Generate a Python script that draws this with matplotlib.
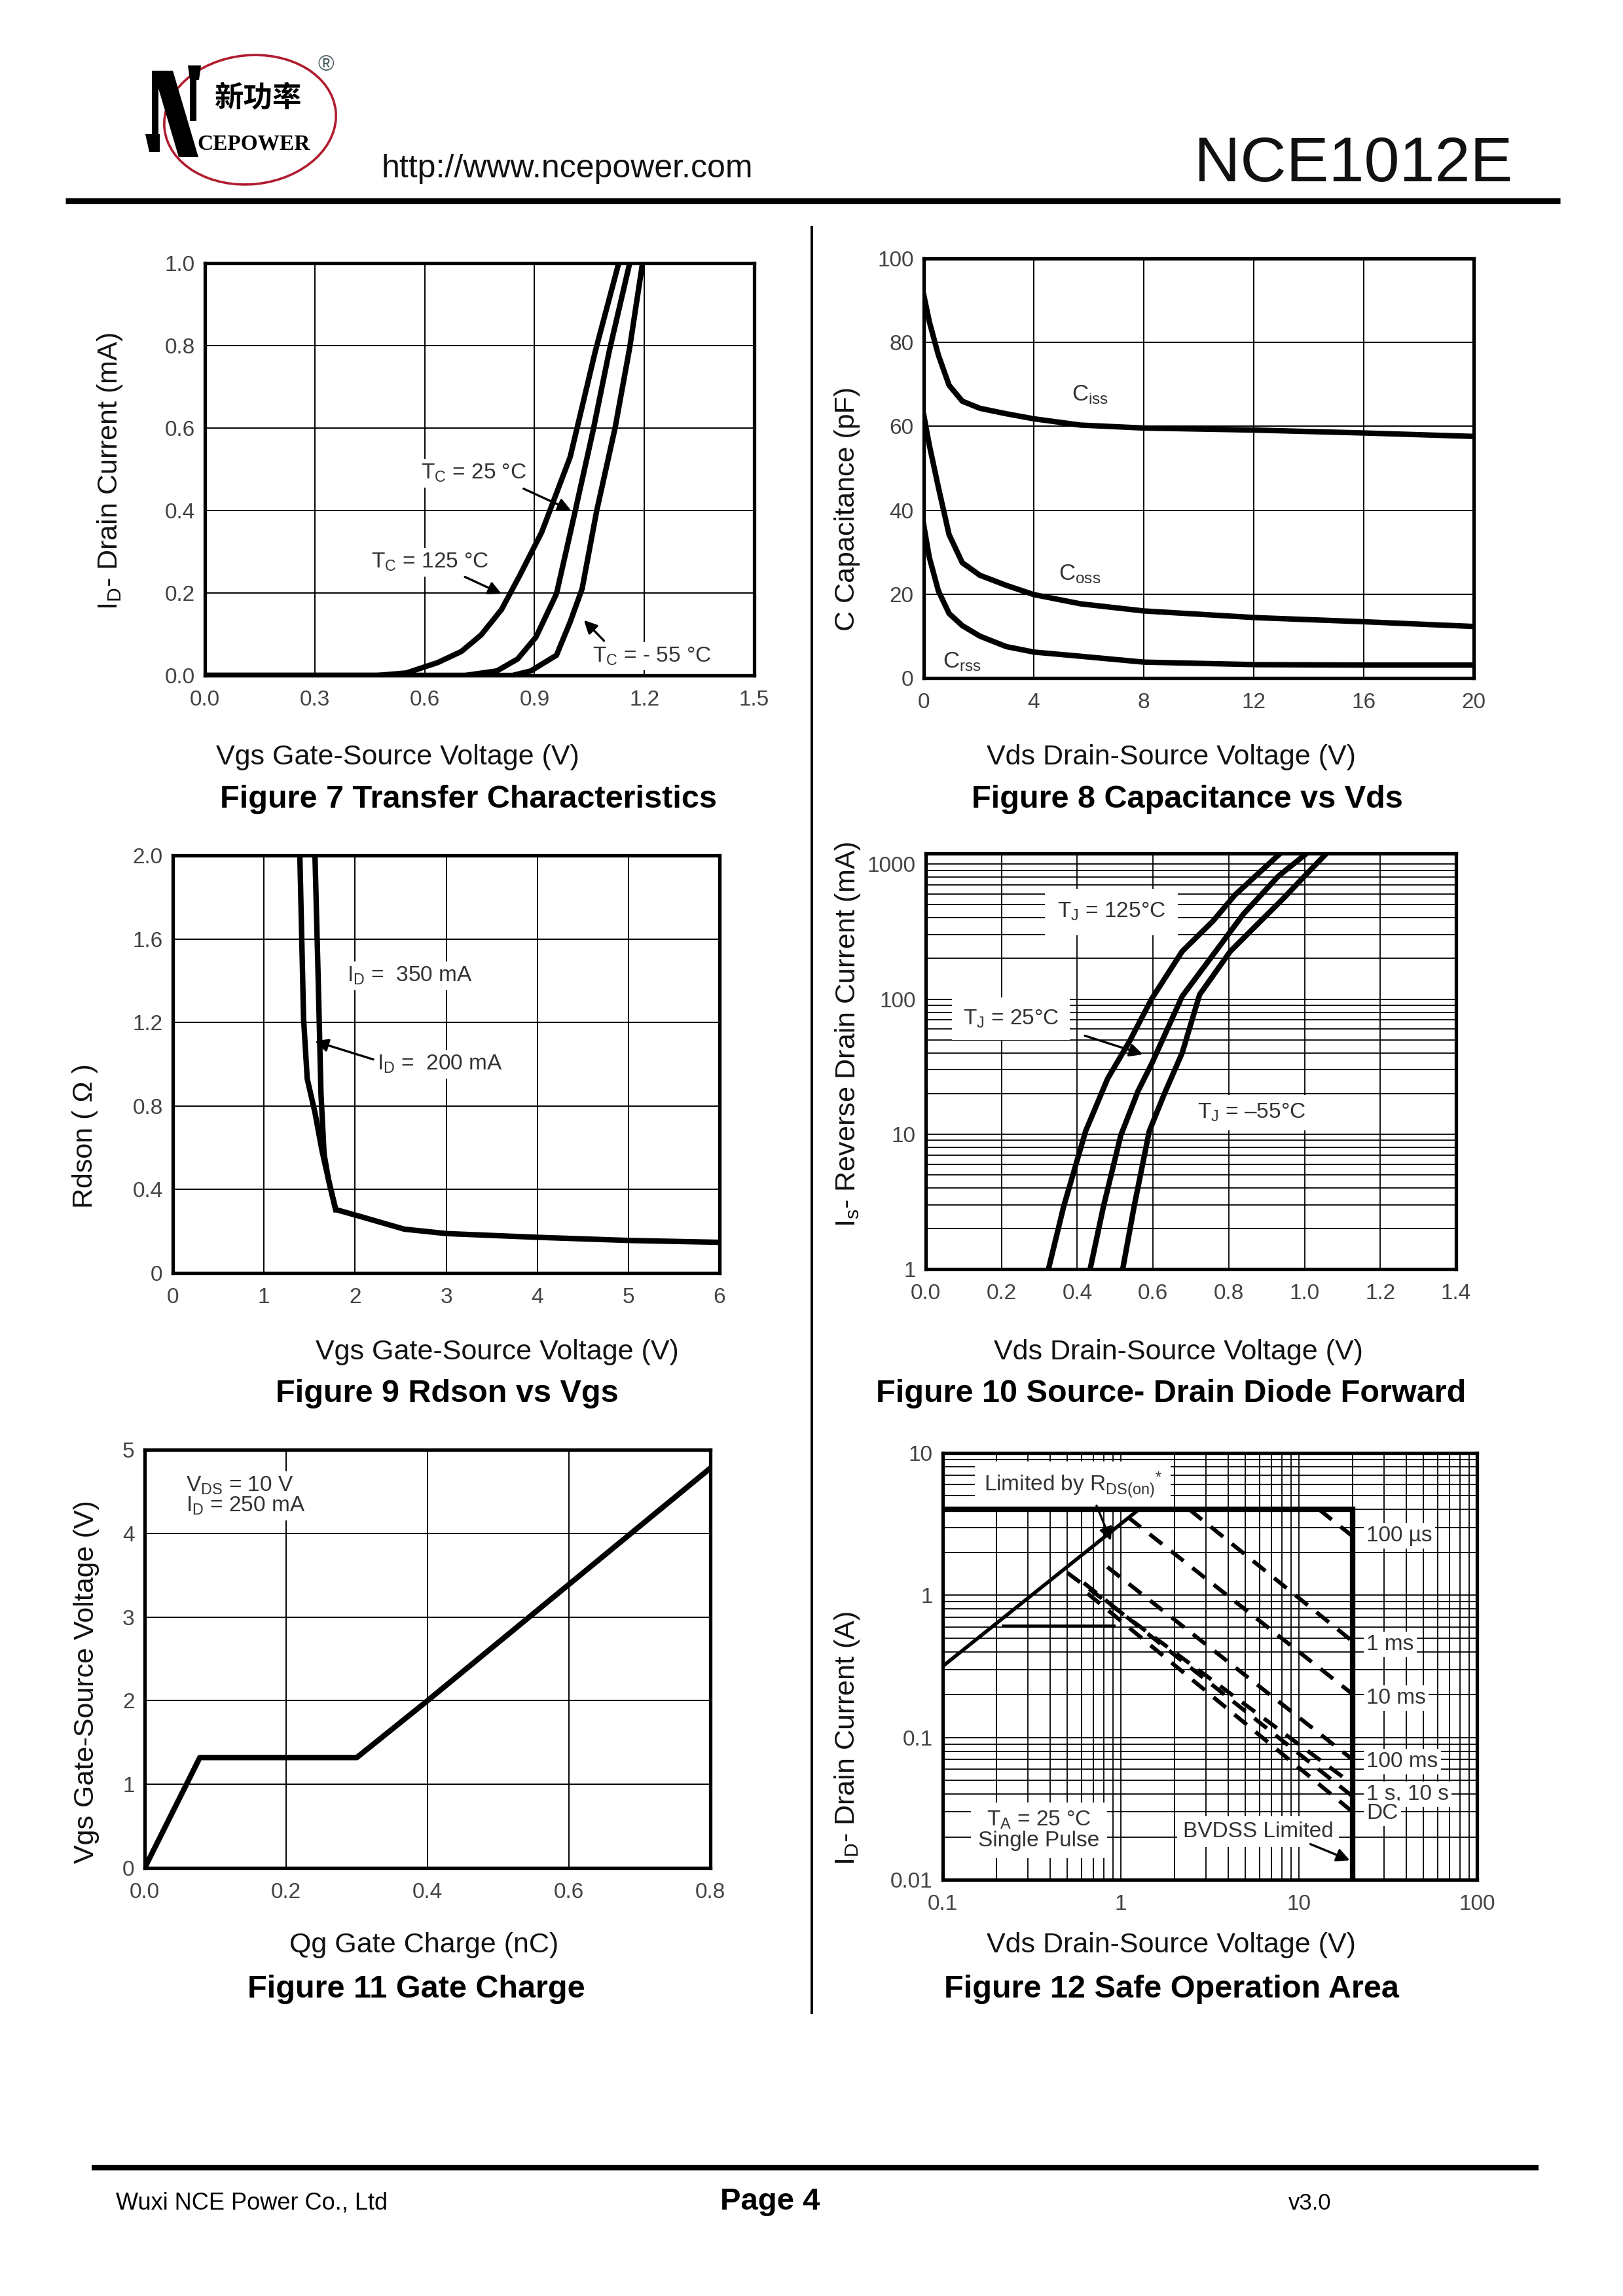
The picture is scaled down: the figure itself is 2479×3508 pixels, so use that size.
import matplotlib
matplotlib.use("Agg")
import matplotlib.pyplot as plt
from matplotlib.patches import Ellipse, Polygon
from matplotlib.ticker import NullFormatter

plt.rcParams["font.family"] = ["Liberation Sans", "DejaVu Sans"]
plt.rcParams["mathtext.fontset"] = "custom"
plt.rcParams["mathtext.rm"] = "Liberation Sans"
plt.rcParams["mathtext.default"] = "rm"

# ---- Figure 7: transfer characteristics (Vgs V, Id mA)
vgs_125 = [0.0, 0.47, 0.55, 0.635, 0.70, 0.754, 0.81, 0.86, 0.92, 0.9975, 1.066, 1.13]
id_125 = [0.0, 0.0, 0.006, 0.031, 0.058, 0.098, 0.16, 0.243, 0.348, 0.53, 0.786, 1.0]
vgs_25 = [0.0, 0.71, 0.7975, 0.854, 0.904, 0.96, 1.01, 1.06, 1.104, 1.16]
id_25 = [0.0, 0.0, 0.011, 0.04, 0.093, 0.198, 0.394, 0.594, 0.786, 1.0]
vgs_m55 = [0.0, 0.84, 0.89, 0.96, 0.9975, 1.03, 1.07, 1.12, 1.16, 1.195]
id_m55 = [0.0, 0.0, 0.011, 0.049, 0.13, 0.21, 0.40, 0.60, 0.795, 1.0]

# ---- Figure 8: capacitance (Vds V, pF)
vds_c = [0, 0.2, 0.53, 0.92, 1.4, 2.04, 3.0, 4.0, 5.7, 8.0, 12.1, 16.1, 20.0]
ciss = [91.3, 85, 77, 69.8, 66.0, 64.3, 63.0, 61.8, 60.3, 59.6, 59.1, 58.4, 57.6]
coss = [62.7, 55.6, 45.5, 34.2, 27.5, 24.5, 22.1, 19.9, 17.7, 16.0, 14.4, 13.4, 12.3]
crss = [36.4, 28.8, 20.8, 15.4, 12.5, 10.0, 7.5, 6.2, 5.2, 3.8, 3.2, 3.1, 3.1]

# ---- Figure 9: Rdson vs Vgs
vgs_200 = [1.394, 1.435, 1.475, 1.56, 1.636, 1.71, 1.787, 2.04, 2.54, 3.0, 4.0, 5.0, 6.0]
r_200 = [2.0, 1.218, 0.93, 0.768, 0.588, 0.444, 0.304, 0.273, 0.21, 0.189, 0.171, 0.156, 0.147]
vgs_350 = [1.56, 1.596, 1.626, 1.66, 1.71, 1.787]
r_350 = [2.0, 1.397, 0.858, 0.57, 0.444, 0.304]

# ---- Figure 10: source-drain diode forward (Vsd V, Is mA)
vsd_125 = [0.324, 0.364, 0.422, 0.48, 0.538, 0.596, 0.677, 0.758, 0.816, 0.937]
is_125 = [1, 2.9, 10.5, 25.7, 48.7, 100, 226, 378, 590, 1210]
vsd_25 = [0.434, 0.469, 0.515, 0.561, 0.596, 0.677, 0.758, 0.839, 0.931, 1.007]
is_25 = [1, 2.9, 9.8, 21, 33, 105, 212, 428, 815, 1210]
vsd_m55 = [0.52, 0.55, 0.59, 0.63, 0.677, 0.723, 0.804, 0.874, 0.943, 1.0, 1.059]
is_m55 = [1, 2.9, 10.5, 19.9, 40, 108, 226, 355, 553, 815, 1210]

# ---- Figure 11: gate charge
qg = [0.0, 0.078, 0.30, 0.40, 0.80]
vg = [0.0, 1.32, 1.32, 2.0, 4.78]

# ---- Figure 12: safe operating area
soa_box_v = [0.1, 20, 20]
soa_box_i = [4.0, 4.0, 0.01]
rds_v = [0.1, 1.26]
rds_i = [0.317, 4.0]
dc_flat_v = [0.217, 0.916]
dc_flat_i = [0.608, 0.608]
pulse_names = ["100 µs", "1 ms", "10 ms", "100 ms", "1 s", "10 s", "DC"]
pulse_v0 = [13.0, 2.43, 1.1, 0.84, 0.50, 0.62, 0.65]
pulse_i0 = [4.0, 4.0, 3.53, 1.58, 1.44, 1.22, 1.03]
pulse_v1 = [20, 20, 20, 20, 20, 20, 20]
pulse_i1 = [2.6, 0.474, 0.202, 0.070, 0.047, 0.0386, 0.030]
pulse_tags = ["100 µs", "1 ms", "10 ms", "100 ms", "1 s, 10 s", "DC"]
pulse_tag_i = [2.62, 0.45, 0.19, 0.068, 0.040, 0.0292]

W, H = 2479, 3508
fig = plt.figure(figsize=(W / 100, H / 100), dpi=100)
bg = fig.add_axes([0, 0, 1, 1])
bg.set_xlim(0, W)
bg.set_ylim(H, 0)
bg.axis("off")

TICK = "#444444"
TXT = "#333333"
LW = 6
box = dict(fc="white", ec="none", pad=4)


def chart(x0, y0, x1, y1):
    ax = fig.add_axes([x0 / W, 1 - y1 / H, (x1 - x0) / W, (y1 - y0) / H])
    for s in ax.spines.values():
        s.set_linewidth(3.8)
        s.set_color("black")
    ax.tick_params(which="both", length=0, labelsize=24, labelcolor=TICK)
    ax.tick_params(axis="x", pad=16)
    ax.tick_params(axis="y", pad=11)
    ax.set_axisbelow(True)
    return ax


def arrow(ax, start, end):
    ax.annotate("", xy=end, xytext=start, zorder=5,
                arrowprops=dict(arrowstyle="-|>", color="black", lw=2.4,
                                mutation_scale=30, shrinkA=0, shrinkB=0))


def captions(xl, xl_pos, title, t_pos, yl, yl_pos):
    bg.text(*xl_pos, xl, fontsize=31, ha="center", va="center", color="#111111")
    bg.text(*t_pos, title, fontsize=35, fontweight="bold", ha="center", va="center")
    bg.text(*yl_pos, yl, fontsize=31, ha="center", va="center", rotation=90, color="#111111")


# Figure 7
ax = chart(313, 402, 1152, 1032)
ax.grid(True, color="black", lw=1.4)
ax.plot(vgs_125, id_125, color="black", lw=LW, zorder=4)
ax.plot(vgs_25, id_25, color="black", lw=LW, zorder=4)
ax.plot(vgs_m55, id_m55, color="black", lw=LW, zorder=4)
ax.set_xlim(0, 1.5)
ax.set_ylim(0, 1.0)
ax.set_xticks([0, 0.3, 0.6, 0.9, 1.2, 1.5], ["0.0", "0.3", "0.6", "0.9", "1.2", "1.5"])
ax.set_yticks([0, 0.2, 0.4, 0.6, 0.8, 1.0], ["0.0", "0.2", "0.4", "0.6", "0.8", "1.0"])
ax.text(0.734, 0.49, "T$_C$ = 25 °C", fontsize=24, color=TXT, ha="center", va="center", bbox=box, zorder=3)
arrow(ax, (0.87, 0.453), (1.0, 0.40))
ax.text(0.615, 0.275, "T$_C$ = 125 °C", fontsize=24, color=TXT, ha="center", va="center", bbox=box, zorder=3)
arrow(ax, (0.71, 0.239), (0.81, 0.198))
ax.text(1.22, 0.047, "T$_C$ = - 55 °C", fontsize=24, color=TXT, ha="center", va="center", bbox=box, zorder=3)
arrow(ax, (1.09, 0.084), (1.035, 0.134))
captions("Vgs Gate-Source Voltage (V)", (607, 1157), "Figure 7 Transfer Characteristics", (715, 1221),
         "I$_D$- Drain Current (mA)", (168, 720))

# Figure 8
ax = chart(1411, 395, 2251, 1036)
ax.grid(True, color="black", lw=1.4)
for c in (ciss, coss, crss):
    ax.plot(vds_c, c, color="black", lw=LW, zorder=4)
ax.set_xlim(0, 20)
ax.set_ylim(0, 100)
ax.set_xticks([0, 4, 8, 12, 16, 20])
ax.set_yticks([0, 20, 40, 60, 80, 100])
ax.text(5.39, 67.6, "C$_{iss}$", fontsize=25, color=TXT, ha="left", va="center", zorder=3)
ax.text(4.9, 24.8, "C$_{oss}$", fontsize=25, color=TXT, ha="left", va="center", zorder=3)
ax.text(0.69, 3.8, "C$_{rss}$", fontsize=25, color=TXT, ha="left", va="center", zorder=3)
captions("Vds Drain-Source Voltage (V)", (1789, 1157), "Figure 8 Capacitance vs Vds", (1813, 1221),
         "C Capacitance (pF)", (1294, 777))

# Figure 9
ax = chart(264, 1307, 1099, 1945)
ax.grid(True, color="black", lw=1.4)
ax.plot(vgs_200, r_200, color="black", lw=LW, zorder=4)
ax.plot(vgs_350, r_350, color="black", lw=LW, zorder=4)
ax.set_xlim(0, 6)
ax.set_ylim(0, 2.0)
ax.set_xticks(range(7))
ax.set_yticks([0, 0.4, 0.8, 1.2, 1.6, 2.0], ["0", "0.4", "0.8", "1.2", "1.6", "2.0"])
ax.text(1.91, 1.424, "I$_D$ =  350 mA", fontsize=24, color=TXT, ha="left", va="center", bbox=box, zorder=3)
ax.text(2.24, 1.0, "I$_D$ =  200 mA", fontsize=24, color=TXT, ha="left", va="center", bbox=box, zorder=3)
arrow(ax, (2.2, 1.023), (1.56, 1.11))
captions("Vgs Gate-Source Voltage (V)", (759, 2066), "Figure 9 Rdson vs Vgs", (683, 2130),
         "Rdson ( Ω )", (130, 1736))

# Figure 10
ax = chart(1414, 1304, 2224, 1939)
ax.set_yscale("log")
ax.yaxis.grid(True, which="both", color="black", lw=1.3)
ax.xaxis.grid(True, which="major", color="black", lw=1.3)
ax.plot(vsd_125, is_125, color="black", lw=LW, zorder=4)
ax.plot(vsd_25, is_25, color="black", lw=LW, zorder=4)
ax.plot(vsd_m55, is_m55, color="black", lw=LW, zorder=4)
ax.set_xlim(0, 1.4)
ax.set_ylim(1, 1200)
ax.set_xticks([0, 0.2, 0.4, 0.6, 0.8, 1.0, 1.2, 1.4], ["0.0", "0.2", "0.4", "0.6", "0.8", "1.0", "1.2", "1.4"])
ax.set_yticks([1, 10, 100, 1000], ["1", "10", "100", "1000"])
ax.yaxis.set_minor_formatter(NullFormatter())
ax.text(0.49, 443, "T$_J$ = 125°C", fontsize=24, color=TXT, ha="center", va="center",
        bbox=dict(fc="white", ec="none", pad=14), zorder=3)
ax.text(0.225, 71.5, "T$_J$ = 25°C", fontsize=24, color=TXT, ha="center", va="center",
        bbox=dict(fc="white", ec="none", pad=12), zorder=3)
arrow(ax, (0.42, 53.6), (0.573, 39))
ax.text(0.86, 14.4, "T$_J$ = –55°C", fontsize=24, color=TXT, ha="center", va="center",
        bbox=dict(fc="white", ec="none", pad=8), zorder=3)
captions("Vds Drain-Source Voltage (V)", (1800, 2066), "Figure 10 Source- Drain Diode Forward", (1789, 2130),
         "I$_s$- Reverse Drain Current (mA)", (1295, 1580))

# Figure 11
ax = chart(221, 2215, 1085, 2854)
ax.grid(True, color="black", lw=1.4)
ax.plot(qg, vg, color="black", lw=LW, zorder=4)
ax.set_xlim(0, 0.8)
ax.set_ylim(0, 5)
ax.set_xticks([0, 0.2, 0.4, 0.6, 0.8], ["0.0", "0.2", "0.4", "0.6", "0.8"])
ax.set_yticks(range(6))
ax.text(0.058, 4.45, "V$_{DS}$ = 10 V\nI$_D$ = 250 mA", fontsize=24, color=TXT, ha="left", va="center",
        linespacing=0.95, bbox=dict(fc="white", ec="none", pad=4), zorder=3)
captions("Qg Gate Charge (nC)", (648, 2972), "Figure 11 Gate Charge", (636, 3039),
         "Vgs Gate-Source Voltage (V)", (132, 2570))

# Figure 12
ax = chart(1440, 2220, 2256, 2872)
ax.set_xscale("log")
ax.set_yscale("log")
ax.grid(True, which="both", color="black", lw=1.3)
ax.plot(soa_box_v, soa_box_i, color="black", lw=6, zorder=4, solid_joinstyle="miter")
ax.plot(rds_v, rds_i, color="black", lw=4, zorder=4)
ax.plot(dc_flat_v, dc_flat_i, color="black", lw=2.8, zorder=4)
for k in range(len(pulse_names)):
    ax.plot([pulse_v0[k], pulse_v1[k]], [pulse_i0[k], pulse_i1[k]], color="black", lw=4.4,
            dashes=(4.0, 2.8), zorder=4)
ax.set_xlim(0.1, 100)
ax.set_ylim(0.01, 10)
ax.set_xticks([0.1, 1, 10, 100], ["0.1", "1", "10", "100"])
ax.set_yticks([0.01, 0.1, 1, 10], ["0.01", "0.1", "1", "10"])
ax.xaxis.set_minor_formatter(NullFormatter())
ax.yaxis.set_minor_formatter(NullFormatter())
ax.text(0.17, 5.95, "Limited by R$_{DS(on)}$$^{*}$", fontsize=24, color=TXT, ha="left", va="center",
        bbox=dict(fc="white", ec="none", pad=10), zorder=3)
arrow(ax, (0.73, 4.27), (0.88, 2.42))
for tag, ti in zip(pulse_tags, pulse_tag_i):
    ax.text(24, ti, tag, fontsize=24, color=TXT, ha="left", va="center",
            bbox=dict(fc="white", ec="none", pad=3), zorder=3)
ax.text(0.347, 0.0222, "T$_A$ = 25 °C\nSingle Pulse", fontsize=24, color=TXT, ha="center", va="center",
        linespacing=1.0, bbox=dict(fc="white", ec="none", pad=8), zorder=3)
ax.text(5.9, 0.0218, "BVDSS Limited", fontsize=24, color=TXT, ha="center", va="center",
        bbox=dict(fc="white", ec="none", pad=6), zorder=3)
arrow(ax, (11.6, 0.0178), (19.3, 0.0137))
captions("Vds Drain-Source Voltage (V)", (1789, 2972), "Figure 12 Safe Operation Area", (1789, 3039),
         "I$_D$- Drain Current (A)", (1294, 2656))

# ---- page header / footer
bg.plot([100, 2383], [307, 307], color="black", lw=6.5, solid_capstyle="butt")
bg.plot([140, 2350], [3312, 3312], color="black", lw=6, solid_capstyle="butt")
bg.plot([1240, 1240], [345, 3077], color="black", lw=2.8, solid_capstyle="butt")
bg.text(583, 271, "http://www.ncepower.com", fontsize=36, ha="left", va="baseline", color="#111111")
bg.text(2310, 277, "NCE1012E", fontsize=70, ha="right", va="baseline", color="#111111")
bg.text(177, 3376, "Wuxi NCE Power Co., Ltd", fontsize=26, ha="left", va="baseline")
bg.text(1100, 3376, "Page 4", fontsize=34, fontweight="bold", ha="left", va="baseline")
bg.text(1968, 3376, "v3.0", fontsize=25, ha="left", va="baseline")

# logo
bg.add_patch(Ellipse((382, 183), 263, 197, angle=-6, fill=False, ec="#b01c2e", lw=2.6))
bg.add_patch(Polygon([(234, 108), (264, 108), (303, 240), (273, 240)], closed=True, fc="black", ec="none"))
bg.add_patch(Polygon([(232, 108), (242, 108), (242, 228), (232, 228)], closed=True, fc="black", ec="none"))
bg.add_patch(Polygon([(222, 205), (244, 205), (244, 232), (228, 232)], closed=True, fc="black", ec="none"))
bg.add_patch(Polygon([(290, 115), (300, 115), (300, 185), (290, 185)], closed=True, fc="black", ec="none"))
bg.add_patch(Polygon([(287, 100), (307, 100), (304, 122), (290, 122)], closed=True, fc="black", ec="none"))
bg.text(395, 150, "新功率", fontsize=32, fontweight="bold", ha="center", va="center",
        family=["Noto Sans CJK SC", "DejaVu Sans"])
bg.text(388, 220, "CEPOWER", fontsize=24, fontweight="bold", ha="center", va="center",
        family=["Liberation Serif", "DejaVu Serif"])
bg.text(498, 100, "®", fontsize=24, ha="center", va="center", color="#4a6060")

fig.savefig("out.png", dpi=100, facecolor="white")
